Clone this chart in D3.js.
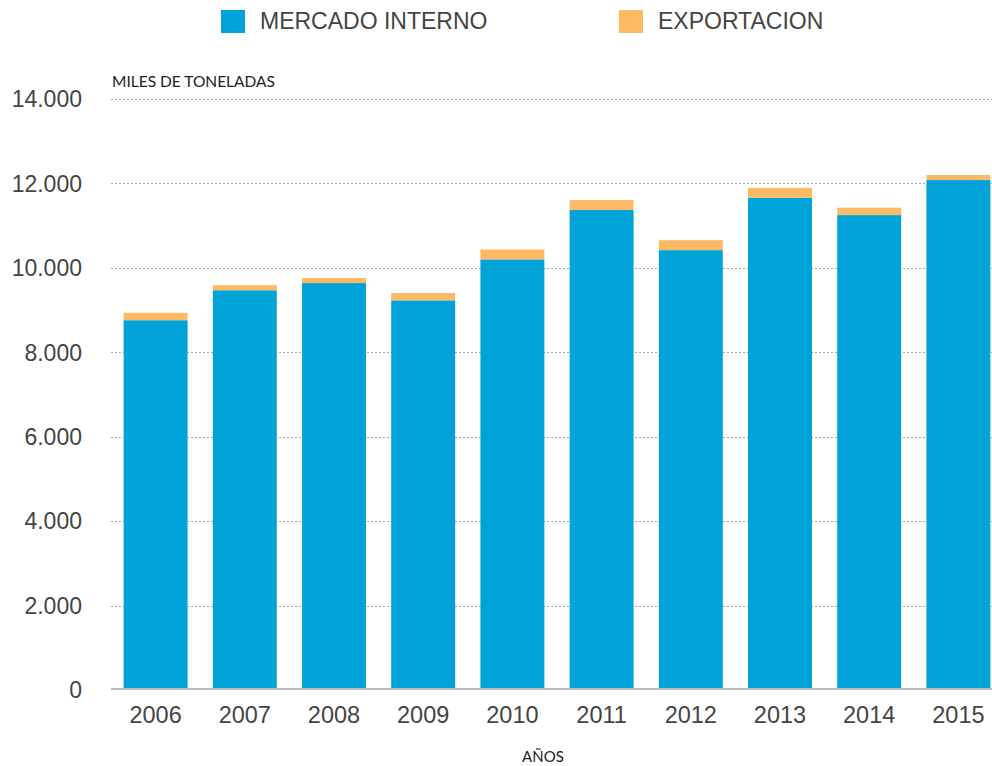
<!DOCTYPE html>
<meta charset="utf-8">
<style>
  body { margin: 0; background: #fff; }
  .tick-label { font-family: "Liberation Sans", Arial, sans-serif; fill: #444; }
  .note { font-family: Lato, sans-serif; fill: #222; }
</style>
<body>
<div id="chart"></div>
<script src="https://d3js.org/d3.v7.min.js"></script>
<script>
// values (thousand tonnes)
const years = ["2006","2007","2008","2009","2010","2011","2012","2013","2014","2015"];
const mercadoInterno = [8760, 9470, 9640, 9230, 10200, 11370, 10420, 11660, 11250, 12080];
const exportacion = [175, 120, 120, 175, 235, 235, 235, 235, 175, 120];
const yTicks = [0, 2000, 4000, 6000, 8000, 10000, 12000, 14000];
const seriesNames = ["MERCADO INTERNO", "EXPORTACION"];
const colors = ["#00a3d7", "#ffb964"];

const width = 992, height = 766;

const svg = d3.select("#chart").append("svg")
  .attr("width", width)
  .attr("height", height);

const x = d3.scaleBand()
  .domain(years)
  .range([111, 1003])
  .paddingInner(0.283)
  .paddingOuter(0.1415);

const y = d3.scaleLinear()
  .domain([0, 14000])
  .range([690, 99]);

const fmt = v => d3.format(",")(v).replace(/,/g, ".");

// gridlines
svg.append("g")
  .selectAll("line")
  .data(yTicks.filter(d => d > 0))
  .join("line")
  .attr("x1", 111)
  .attr("x2", width)
  .attr("y1", d => Math.round(y(d)) + 0.5)
  .attr("y2", d => Math.round(y(d)) + 0.5)
  .attr("stroke", "#aaa")
  .attr("stroke-dasharray", "2,2");

// y labels
svg.append("g")
  .selectAll("text")
  .data(yTicks)
  .join("text")
  .attr("class", "tick-label")
  .attr("x", 82)
  .attr("y", d => y(d))
  .attr("dy", "0.36em")
  .attr("text-anchor", "end")
  .style("font-size", "23px")
  .text(d => fmt(d));

// stacked bars
const rows = years.map((yr, i) => ({ year: yr, interno: mercadoInterno[i], export: exportacion[i] }));
const stack = d3.stack().keys(["interno", "export"])(rows);

svg.append("g")
  .selectAll("g")
  .data(stack)
  .join("g")
  .attr("fill", (d, i) => colors[i])
  .selectAll("rect")
  .data(d => d)
  .join("rect")
  .attr("x", d => x(d.data.year))
  .attr("width", x.bandwidth())
  .attr("y", d => y(d[1]))
  .attr("height", d => y(d[0]) - y(d[1]));

// baseline
svg.append("line")
  .attr("x1", 111)
  .attr("x2", width)
  .attr("y1", 689)
  .attr("y2", 689)
  .attr("stroke", "#bbb")
  .attr("stroke-width", 2);

// x labels
svg.append("g")
  .selectAll("text")
  .data(years)
  .join("text")
  .attr("class", "tick-label")
  .attr("x", d => x(d) + x.bandwidth() / 2)
  .attr("y", 723)
  .attr("text-anchor", "middle")
  .style("font-size", "23.5px")
  .text(d => d);

// axis titles
svg.append("text")
  .attr("class", "note")
  .attr("x", 112)
  .attr("y", 87)
  .style("font-size", "15.5px")
  .text("MILES DE TONELADAS");

svg.append("text")
  .attr("class", "note")
  .attr("x", 543)
  .attr("y", 762)
  .attr("text-anchor", "middle")
  .style("font-size", "15px")
  .text("AÑOS");

// legend
const legendX = [221, 619];
const legend = svg.append("g")
  .selectAll("g")
  .data(seriesNames)
  .join("g")
  .attr("transform", (d, i) => `translate(${legendX[i]},10)`);

legend.append("rect")
  .attr("width", 24)
  .attr("height", 23)
  .attr("fill", (d, i) => colors[i]);

legend.append("text")
  .attr("class", "tick-label")
  .attr("x", 39)
  .attr("y", 18.5)
  .style("font-size", "23px")
  .text(d => d);
</script>
</body>
</html>
